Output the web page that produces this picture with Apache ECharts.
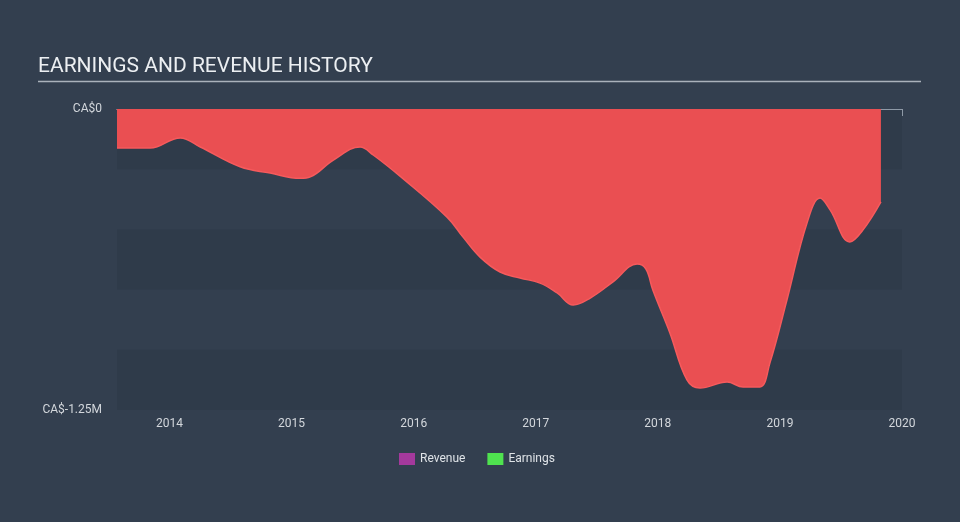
<!DOCTYPE html>
<html>
<head>
<meta charset="utf-8">
<script src="https://cdn.jsdelivr.net/npm/echarts@6/dist/echarts.min.js"></script>
<style>
html,body{margin:0;padding:0;background:#333f4f;}
#chart{width:960px;height:522px;}
</style>
</head>
<body>
<div id="chart"></div>
<script>
// Earnings history (CA$)
var earningsDates = [
  "2013-07-28","2013-11-04","2014-02-02","2014-04-03","2014-07-31","2014-10-29",
  "2015-01-27","2015-02-26","2015-05-06","2015-07-25","2015-09-02","2015-11-22",
  "2016-04-10","2016-05-28","2016-07-18","2016-09-16","2016-11-15",
  "2017-01-14","2017-03-06","2017-04-23","2017-06-13","2017-08-20","2017-10-31",
  "2017-11-26","2017-12-17","2018-02-06","2018-03-29","2018-05-07","2018-07-27",
  "2018-09-13","2018-11-02","2018-12-02","2019-01-22","2019-03-23","2019-05-01",
  "2019-05-31","2019-07-29","2019-09-06","2019-10-30"
];
var earningsValues = [
  -162000,-162000,-120000,-158000,-240000,-266000,
  -288000,-282000,-212000,-158000,-191000,-280000,
  -449000,-532000,-615000,-677000,-702000,
  -723000,-764000,-814000,-785000,-718000,-644000,
  -664000,-752000,-930000,-1125000,-1159000,-1134000,
  -1154000,-1154000,-1055000,-793000,-473000,-370000,
  -419000,-552000,-503000,-386000
];
var revenueDates = [];
var revenueValues = [];
var yearTicks = [2014, 2015, 2016, 2017, 2018, 2019, 2020];
var yMin = -1250000, yMax = 0, yStep = 250000;
var xStart = "2013-07-28", xEnd = "2020-01-01";

function toYear(s) {
  var d = new Date(s + "T00:00:00Z");
  var y = d.getUTCFullYear();
  var a = Date.UTC(y, 0, 1), b = Date.UTC(y + 1, 0, 1);
  return y + (d.getTime() - a) / (b - a);
}
function pairs(dates, vals) {
  return dates.map(function (d, i) { return [toYear(d), vals[i]]; });
}

var chart = echarts.init(document.getElementById('chart'));
var labelColor = '#d3d7dc';
var font = 'Roboto, "Noto Sans", sans-serif';

chart.setOption({
  backgroundColor: '#333f4f',
  animation: false,
  title: {
    text: 'EARNINGS AND REVENUE HISTORY',
    left: 38, top: 56,
    padding: 0,
    textStyle: { color: '#eceff2', fontSize: 21, fontWeight: 'normal', fontFamily: font }
  },
  graphic: [{
    type: 'line', z: 10,
    shape: { x1: 38, y1: 81.5, x2: 921, y2: 81.5 },
    style: { stroke: '#aab2bb', lineWidth: 1.5 }
  }],
  legend: {
    left: 394, top: 448,
    itemWidth: 16, itemHeight: 12, itemGap: 22,
    icon: 'rect',
    textStyle: { color: '#dfe3e7', fontSize: 12, fontFamily: font },
    data: ['Revenue', 'Earnings']
  },
  grid: { left: 117, right: 58, top: 109, bottom: 112 },
  xAxis: [{
    type: 'value',
    min: toYear(xStart), max: toYear(xEnd),
    axisLine: { show: true, lineStyle: { color: '#8e99a6', width: 1 } },
    axisTick: { show: true, length: 7, customValues: yearTicks, lineStyle: { color: '#8e99a6' } },
    axisLabel: {
      customValues: yearTicks, color: labelColor, fontSize: 12, fontFamily: font, margin: 8,
      formatter: function (v) { return String(Math.round(v)); }
    },
    splitLine: { show: false }
  }, {
    type: 'value', position: 'top',
    min: toYear(xStart), max: toYear(xEnd),
    axisLine: { show: true, onZero: false, lineStyle: { color: '#8e99a6', width: 1 } },
    axisTick: { show: false }, axisLabel: { show: false }, splitLine: { show: false }
  }],
  yAxis: {
    type: 'value',
    min: yMin, max: yMax, interval: yStep,
    axisLine: { show: false }, axisTick: { show: false },
    axisLabel: {
      color: labelColor, fontSize: 12, fontFamily: font, margin: 15,
      formatter: function (v) {
        if (v === 0) return 'CA$0';
        if (v === yMin) return 'CA$-1.25M';
        return '';
      }
    },
    splitLine: { show: false },
    splitArea: { show: true, areaStyle: { color: ['#2f3b4a', 'rgba(0,0,0,0)'] } }
  },
  series: [{
    name: 'Revenue', type: 'line',
    data: pairs(revenueDates, revenueValues),
    itemStyle: { color: '#a4399c' }, symbol: 'none'
  }, {
    name: 'Earnings', type: 'line',
    data: pairs(earningsDates, earningsValues),
    smooth: 0.4, symbol: 'none',
    itemStyle: { color: '#4fe24f' },
    lineStyle: { color: '#f65a5c', width: 1.5 },
    areaStyle: { color: '#ea4f52', opacity: 1 }
  }]
});
</script>
</body>
</html>
